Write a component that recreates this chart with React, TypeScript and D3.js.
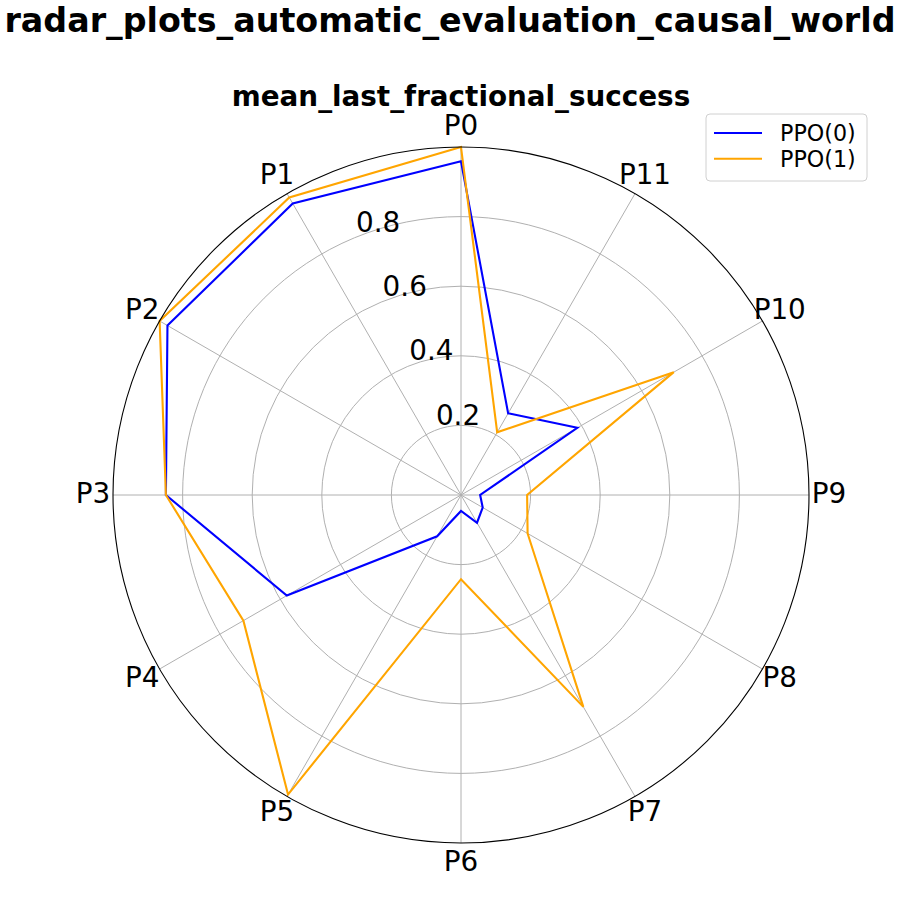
import React from "react";
import * as d3 from "d3";

const categories = ["P0", "P1", "P2", "P3", "P4", "P5", "P6", "P7", "P8", "P9", "P10", "P11"];
const ppo0 = [0.959, 0.967, 0.974, 0.848, 0.578, 0.137, 0.046, 0.092, 0.072, 0.055, 0.386, 0.271];
const ppo1 = [1.0, 0.987, 1.0, 0.848, 0.722, 0.994, 0.242, 0.703, 0.221, 0.19, 0.706, 0.208];
const seriesNames = ["PPO(0)", "PPO(1)"];
const seriesColors = ["#0000ff", "#ffa500"];
const radialTicks = [0.2, 0.4, 0.6, 0.8];
const title = "radar_plots_automatic_evaluation_causal_world";
const subtitle = "mean_last_fractional_success";

const W = 900;
const H = 900;
const cx = 461;
const cy = 495;
const R = 348;
const FONT = "DejaVu Sans, sans-serif";

export default function App() {
  const r = d3.scaleLinear().domain([0, 1]).range([0, R]);
  const n = categories.length;
  // counterclockwise, starting at top
  const ang = d3.scaleLinear().domain([0, n]).range([0, -2 * Math.PI]);
  const line = d3
    .lineRadial<number>()
    .angle((_, i) => ang(i))
    .radius((d) => r(d))
    .curve(d3.curveLinearClosed);
  const series = [ppo0, ppo1];
  const rlabA = (22.5 * Math.PI) / 180;

  return (
    <svg width={W} height={H} style={{ position: "absolute", left: 0, top: 0, background: "#fff" }} fontFamily={FONT}>
      <rect x={0} y={0} width={W} height={H} fill="#fff" />
      <text x={450} y={32} textAnchor="middle" fontSize={33.3} fontWeight="bold" fill="#000">
        {title}
      </text>
      <text x={cx} y={106} textAnchor="middle" fontSize={27.8} fontWeight="bold" fill="#000">
        {subtitle}
      </text>
      <g transform={`translate(${cx},${cy})`}>
        {radialTicks.map((t) => (
          <circle key={t} r={r(t)} fill="none" stroke="#b0b0b0" strokeWidth={1} />
        ))}
        {categories.map((c, i) => {
          const a = ang(i);
          return (
            <line
              key={c}
              x1={0}
              y1={0}
              x2={R * Math.sin(a)}
              y2={-R * Math.cos(a)}
              stroke="#b0b0b0"
              strokeWidth={1}
            />
          );
        })}
        {series.map((s, k) => (
          <path key={k} d={line(s) || ""} fill="none" stroke={seriesColors[k]} strokeWidth={2.1} strokeLinejoin="miter" />
        ))}
        <circle r={R} fill="none" stroke="#000" strokeWidth={1.1} />
        {radialTicks.map((t) => (
          <text
            key={"l" + t}
            x={-r(t) * Math.sin(rlabA) + 1.5}
            y={-r(t) * Math.cos(rlabA) - 6}
            fontSize={27.8}
            textAnchor="start"
            fill="#000"
          >
            {t.toFixed(1)}
          </text>
        ))}
        {categories.map((c, i) => {
          const a = ang(i);
          const lx = 368 * Math.sin(a);
          const ly = -368 * Math.cos(a) - 2.3;
          return (
            <text key={"c" + c} x={lx} y={ly + 10.1} textAnchor="middle" fontSize={27.8} fill="#000">
              {c}
            </text>
          );
        })}
      </g>
      <g>
        <rect x={706} y={114} width={161} height={67} rx={4} fill="#fff" stroke="#d0d0d0" strokeWidth={1} />
        {seriesNames.map((nm, k) => (
          <g key={nm}>
            <line x1={714} x2={762} y1={133 + k * 25.7} y2={133 + k * 25.7} stroke={seriesColors[k]} strokeWidth={2.1} />
            <text x={780} y={141.2 + k * 25.7} fontSize={22.2} fill="#000">
              {nm}
            </text>
          </g>
        ))}
      </g>
    </svg>
  );
}
